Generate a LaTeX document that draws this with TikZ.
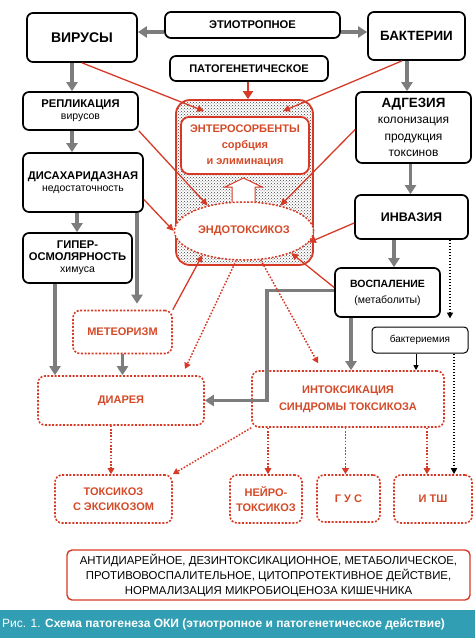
\documentclass[tikz,border=0pt]{standalone}
\usepackage{fontspec}
\setmainfont{Liberation Sans}
\usetikzlibrary{arrows.meta,shapes.geometric,patterns}
\definecolor{okired}{RGB}{214,58,38}
\definecolor{okitext}{RGB}{212,74,40}
\definecolor{okigray}{RGB}{125,125,125}
\definecolor{okiband}{RGB}{50,158,180}
\newcommand{\boxhead}[1]{{\bfseries\fontsize{11.2}{13.5}\selectfont #1}}
\newcommand{\boxnote}[1]{{\fontsize{10.5}{13}\selectfont #1}}

\begin{document}
\begin{tikzpicture}[x=1pt, y=-1pt,
  blackbox/.style={draw, line width=1.7pt, rounded corners=6pt, fill=white,
                   align=center, inner sep=1pt},
  redbox/.style={draw=okired, line width=1.6pt, dash pattern=on 2pt off 1.6pt,
                 rounded corners=7pt, fill=white, align=center, text=okitext,
                 font=\bfseries\fontsize{11}{15}\selectfont},
  grayarr/.style={draw=okigray, line width=3.6pt, -{Triangle[width=11pt,length=9pt]}},
  redarr/.style={draw=okired, line width=1.3pt, -{Triangle[width=6.5pt,length=7pt]}},
  reddot/.style={draw=okired, line width=1.5pt, dash pattern=on 1.6pt off 1.6pt,
                 -{Triangle[width=6.5pt,length=6pt]}},
  blkdot/.style={draw=black, line width=1.5pt, dash pattern=on 1.6pt off 1.4pt,
                 -{Triangle[width=6pt,length=6pt]}}
]
\useasboundingbox (0,0) rectangle (475,638);

% top row
\node[blackbox, minimum width=110pt, minimum height=49pt, font=\bfseries\fontsize{14}{16}\selectfont] (virus) at (82,37.5) {ВИРУСЫ};
\node[blackbox, minimum width=175pt, minimum height=26pt, font=\bfseries\fontsize{11.2}{13}\selectfont] (etio) at (252.5,25) {ЭТИОТРОПНОЕ};
\node[blackbox, minimum width=97pt, minimum height=48pt, font=\bfseries\fontsize{13.4}{15}\selectfont] (bact) at (416.5,36) {БАКТЕРИИ};
\node[blackbox, minimum width=158pt, minimum height=25pt, font=\bfseries\fontsize{11}{13}\selectfont] (patog) at (249,68.5) {ПАТОГЕНЕТИЧЕСКОЕ};

% sorbent zone
\node[draw=okired, line width=1.8pt, rounded corners=14pt, pattern=crosshatch dots,
      pattern color=black!75, minimum width=137pt, minimum height=165pt] (zone) at (244.5,182.5) {};
\node[draw=okired, line width=1.8pt, rounded corners=8pt, fill=white, align=center,
      minimum width=128pt, minimum height=57pt, text=okitext,
      font=\bfseries\fontsize{11}{16}\selectfont] (entero) at (245,145.5) {ЭНТЕРОСОРБЕНТЫ\\сорбция\\и элиминация};
\coordinate (lift) at (243.5,207);
\draw[draw=okired, line width=1pt, fill=white] (lift) ++(-11.5,0) -- ++(0,-20) -- ++(-7,0)
      -- ++(18.5,-9) -- ++(18.5,9) -- ++(-7,0) -- ++(0,20) -- cycle;
\node[ellipse, draw=okired, line width=1.5pt, dash pattern=on 2pt off 1.6pt, fill=white,
      minimum width=116pt, minimum height=58pt, text=okitext,
      font=\bfseries\fontsize{11}{13}\selectfont] (endo) at (244,231) {ЭНДОТОКСИКОЗ};

% left column
\node[blackbox, minimum width=115pt, minimum height=38pt] (repl) at (80.5,111) {\boxhead{РЕПЛИКАЦИЯ}\\\boxnote{вирусов}};
\node[blackbox, minimum width=120pt, minimum height=59pt] (disach) at (83,182.5) {\boxhead{ДИСАХАРИДАЗНАЯ}\\\boxnote{недостаточность}};
\node[blackbox, minimum width=109pt, minimum height=50pt] (hyper) at (77.5,258) {\boxhead{ГИПЕР-}\\\boxhead{ОСМОЛЯРНОСТЬ}\\\boxnote{химуса}};

% right column
\node[blackbox, minimum width=115pt, minimum height=71pt, font=\fontsize{12}{16.5}\selectfont] (adhes) at (413.5,127.5) {{\bfseries\fontsize{13.4}{16}\selectfont АДГЕЗИЯ}\\колонизация\\продукция\\токсинов};
\node[blackbox, minimum width=113pt, minimum height=44pt, font=\bfseries\fontsize{12.5}{14}\selectfont] (invas) at (411.5,217) {ИНВАЗИЯ};
\node[blackbox, minimum width=105pt, minimum height=49pt, font=\fontsize{10.5}{16}\selectfont] (vospal) at (387.5,292.5) {{\bfseries ВОСПАЛЕНИЕ}\\(метаболиты)};
\node[draw, line width=1pt, rounded corners=4pt, fill=white, minimum width=96pt, minimum height=26pt,
      font=\fontsize{10}{12}\selectfont] (bactem) at (420,340) {бактериемия};

% red dotted boxes
\node[redbox, minimum width=99pt, minimum height=43pt] (meteor) at (122.5,332) {МЕТЕОРИЗМ};
\node[redbox, minimum width=166pt, minimum height=49pt] (diarea) at (121,400.5) {ДИАРЕЯ};
\node[redbox, minimum width=192pt, minimum height=56pt, font=\bfseries\fontsize{11}{17}\selectfont] (intox) at (348,399) {ИНТОКСИКАЦИЯ\\СИНДРОМЫ ТОКСИКОЗА};
\node[redbox, minimum width=117pt, minimum height=48pt] (toxeks) at (113.5,499) {ТОКСИКОЗ\\С ЭКСИКОЗОМ};
\node[redbox, minimum width=72pt, minimum height=48pt] (neuro) at (266,499) {НЕЙРО-\\ТОКСИКОЗ};
\node[redbox, minimum width=63pt, minimum height=47pt] (gus) at (348.5,498.5) {Г У С};
\node[redbox, minimum width=78pt, minimum height=48pt] (itsh) at (433,499) {И ТШ};

% therapy and caption
\node[draw=okired, line width=1.4pt, rounded corners=5pt, minimum width=403pt, minimum height=50pt,
      align=center, font=\fontsize{11.4}{15}\selectfont] (therapy) at (268.5,575)
      {АНТИДИАРЕЙНОЕ, ДЕЗИНТОКСИКАЦИОННОЕ, МЕТАБОЛИЧЕСКОЕ,\\ПРОТИВОВОСПАЛИТЕЛЬНОЕ, ЦИТОПРОТЕКТИВНОЕ ДЕЙСТВИЕ,\\НОРМАЛИЗАЦИЯ МИКРОБИОЦЕНОЗА КИШЕЧНИКА};
\node[fill=okiband, minimum width=475pt, minimum height=28pt, inner sep=0pt, anchor=north west] (band) at (0,610) {};
\node[anchor=west, text=white, inner sep=2pt, font=\fontsize{12}{14}\selectfont] (caption) at (band.west)
      {Рис. 1. {\bfseries Схема патогенеза ОКИ (этиотропное и патогенетическое действие)}};

% gray arrows
\draw[grayarr] ([yshift=-7pt]etio.west) -- ([yshift=-7pt]etio.west -| virus.east);
\draw[grayarr] ([yshift=-7pt]etio.east) -- ([yshift=-7pt]etio.east -| bact.west);
\draw[grayarr] ([xshift=-10pt]virus.south) -- ([xshift=-10pt]virus.south |- repl.north);
\draw[grayarr] ([xshift=-8.5pt]repl.south) -- ([xshift=-8.5pt]repl.south |- disach.north);
\draw[grayarr] ([xshift=-6pt]disach.south) -- ([xshift=-6pt]disach.south |- hyper.north);
\draw[grayarr] ([xshift=-22.5pt]hyper.south) -- ([xshift=-22.5pt]hyper.south |- diarea.north);
\draw[grayarr, shorten >=6pt] ([xshift=54pt]disach.south) -- ([xshift=54pt]disach.south |- meteor.north);
\draw[grayarr] (meteor.south) -- (meteor.south |- diarea.north);
\draw[grayarr] ([xshift=-9.5pt]bact.south) -- ([xshift=-9.5pt]bact.south |- adhes.north);
\draw[grayarr] ([xshift=-3pt]adhes.south) -- ([xshift=-3pt]adhes.south |- invas.north);
\draw[grayarr] ([xshift=-17.5pt]invas.south) -- ([xshift=-17.5pt]invas.south |- vospal.north);
\draw[grayarr] ([xshift=-36.5pt]vospal.south) -- ([xshift=-36.5pt]vospal.south |- intox.north);
\draw[grayarr] ([yshift=2pt]vospal.west) -- ++(-67pt,0) |- (diarea.east);

% black arrows
\draw[blkdot, shorten >=8pt] ([xshift=38.5pt]invas.south) -- ([xshift=38.5pt]invas.south |- bactem.north);
\draw[draw=black, line width=1pt, -{Triangle[width=5pt,length=5pt]}] ([xshift=-4pt]bactem.south) -- ([xshift=-4pt]bactem.south |- intox.north);
\draw[blkdot] ([xshift=34pt]bactem.south) -- ([xshift=34pt]bactem.south |- itsh.north);

% red arrows
\draw[draw=okired, line width=2.6pt, -{Triangle[width=10pt,length=8pt]}] ([xshift=-1pt]patog.south) -- ([xshift=-1pt]patog.south |- zone.north);
\draw[redarr] (virus.south) -- ([xshift=29pt,yshift=-12pt]zone.north west);
\draw[redarr] ([xshift=-14.5pt]bact.south) -- ([xshift=-31pt,yshift=-12pt]zone.north east);
\draw[redarr] (repl.south east) -- (endo.145);
\draw[redarr] ([yshift=-2pt]adhes.west) -- (endo.35);
\draw[redarr] ([yshift=-17pt]disach.east) -- (endo.west);
\draw[redarr] ([yshift=-6pt]invas.west) -- (endo.-10);
\draw[redarr] ([yshift=5pt]vospal.west) -- (endo.-25);
\draw[redarr] (meteor.north east) -- (endo.210);

% red dotted arrows
\draw[reddot, shorten >=7pt] (endo.255) -- ([xshift=61pt]diarea.north);
\draw[reddot, shorten >=8pt] (endo.300) -- ([xshift=-26pt]intox.north);
\draw[reddot] (intox.south west) -- (toxeks.north east);
\draw[reddot] ([xshift=-10pt]diarea.south) -- ([xshift=-10pt]diarea.south |- toxeks.north);
\draw[reddot] ([xshift=2pt]neuro.north |- intox.south) -- ([xshift=2pt]neuro.north);
\draw[reddot] ([xshift=-3pt]gus.north |- intox.south) -- ([xshift=-3pt]gus.north);
\draw[reddot] ([xshift=-6pt]itsh.north |- intox.south) -- ([xshift=-6pt]itsh.north);
\end{tikzpicture}
\end{document}
